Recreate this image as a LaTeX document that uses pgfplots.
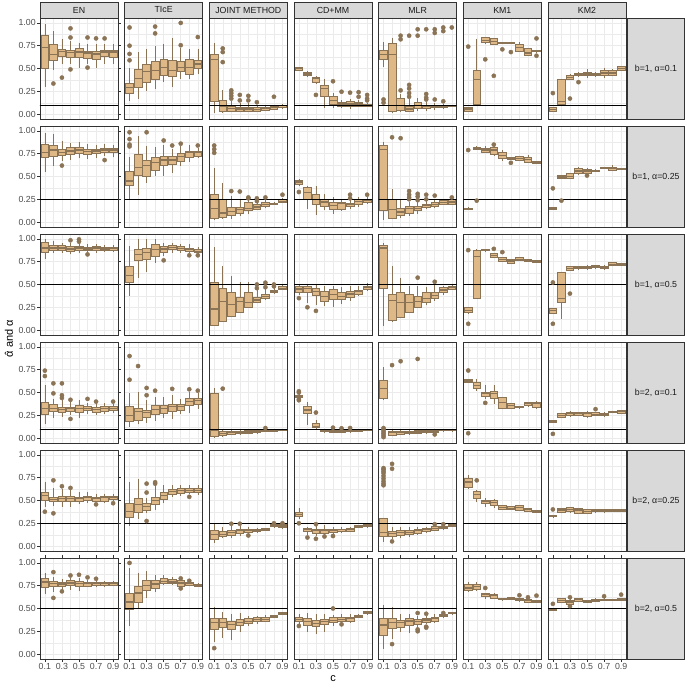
\documentclass[border=0pt]{standalone}
\usepackage{fontspec}
\setmainfont{Liberation Sans}
\usepackage{pgfplots}
\pgfplotsset{compat=1.18}
\usepgfplotslibrary{groupplots,statistics}
\usetikzlibrary{calc}

\definecolor{bfill}{HTML}{DEB887}
\definecolor{bline}{HTML}{8B7355}
\definecolor{grey10}{HTML}{1A1A1A}
\definecolor{grey20}{HTML}{333333}
\definecolor{grey30}{HTML}{4D4D4D}
\definecolor{grey85}{HTML}{D9D9D9}
\definecolor{grey92}{HTML}{EBEBEB}

\pgfplotsset{
  panel/.style={
    scale only axis, width=78pt, height=101pt,
    xmin=0.043, xmax=0.957, ymin=-0.054, ymax=1.054,
    xtick={0.1,0.3,0.5,0.7,0.9}, minor xtick={0.2,0.4,0.6,0.8},
    ytick={0,0.25,0.5,0.75,1}, minor ytick={0.125,0.375,0.625,0.875},
    xticklabels={}, yticklabels={},
    grid=both,
    major grid style={grey92, line width=0.55pt},
    minor grid style={grey92, line width=0.3pt},
    axis line style={grey20, line width=0.55pt},
    tick align=outside, major tick length=2.6pt, minor tick length=0pt,
    xtick style={draw=none}, ytick style={draw=none},
    ticklabel style={font=\fontsize{8.8}{9}\selectfont, text=grey30},
    xticklabel style={inner sep=1.5pt},
    yticklabel style={inner sep=1.5pt},
    boxplot/draw direction=y,
    boxplot/box extend=0.09,
    boxplot/whisker extend=0,
    boxplot/every median/.style={line width=1.2pt},
  },
  lft/.style={yticklabels={0.00,0.25,0.50,0.75,1.00}, ytick style={draw=grey20, line width=0.55pt}},
  bot/.style={xticklabels={0.1,0.3,0.5,0.7,0.9}, xtick style={draw=grey20, line width=0.55pt}},
  bxs/.style={draw=bline, fill=bfill, line width=0.6pt, solid},
  outl/.style={only marks, mark=*, mark size=2.1pt, color=bline, mark options={draw=bline, fill=bline, solid}},
}
\newcommand\bx[6]{\addplot[bxs, boxplot prepared={draw position=#1, lower whisker=#2, lower quartile=#3, median=#4, upper quartile=#5, upper whisker=#6}] coordinates {};}
\newcommand\hl[1]{\addplot[black, line width=0.6pt] coordinates {(0,#1) (1,#1)};}

\begin{document}
\begin{tikzpicture}
\begin{groupplot}[group style={group size=7 by 6, horizontal sep=6.67pt, vertical sep=7pt}, panel]
% ---------------- row 1: b=1, alpha=0.1
\nextgroupplot[lft]
\bx{0.1}{0.30}{0.50}{0.73}{0.86}{0.99}
\bx{0.2}{0.48}{0.59}{0.655}{0.76}{0.91}
\bx{0.3}{0.55}{0.63}{0.69}{0.71}{0.82}
\bx{0.4}{0.55}{0.62}{0.675}{0.705}{0.80}
\bx{0.5}{0.51}{0.62}{0.68}{0.72}{0.78}
\bx{0.6}{0.55}{0.61}{0.67}{0.69}{0.77}
\bx{0.7}{0.51}{0.60}{0.66}{0.69}{0.77}
\bx{0.8}{0.55}{0.63}{0.68}{0.70}{0.77}
\bx{0.9}{0.55}{0.62}{0.68}{0.70}{0.77}
\addplot[outl] coordinates {(0.2,0.335)(0.3,0.40)(0.4,0.94)(0.4,0.84)(0.4,0.49)(0.6,0.84)(0.6,0.51)(0.7,0.83)(0.8,0.83)};
\hl{0.1}
\nextgroupplot
\bx{0.1}{0.14}{0.23}{0.29}{0.335}{0.50}
\bx{0.2}{0.17}{0.29}{0.39}{0.49}{0.68}
\bx{0.3}{0.25}{0.35}{0.47}{0.55}{0.71}
\bx{0.4}{0.27}{0.38}{0.48}{0.58}{0.75}
\bx{0.5}{0.35}{0.43}{0.51}{0.60}{0.77}
\bx{0.6}{0.30}{0.41}{0.48}{0.59}{0.84}
\bx{0.7}{0.39}{0.47}{0.51}{0.58}{0.73}
\bx{0.8}{0.38}{0.44}{0.51}{0.60}{0.71}
\bx{0.9}{0.44}{0.50}{0.55}{0.59}{0.71}
\addplot[outl] coordinates {(0.1,0.95)(0.1,0.75)(0.1,0.66)(0.1,0.59)(0.4,0.96)(0.4,0.885)(0.7,1.0)(0.7,0.755)(0.9,0.845)};
\hl{0.1}
\nextgroupplot
\bx{0.1}{0.01}{0.14}{0.60}{0.66}{0.78}
\bx{0.2}{0.01}{0.03}{0.08}{0.155}{0.26}
\bx{0.3}{0.02}{0.035}{0.06}{0.08}{0.14}
\bx{0.4}{0.02}{0.035}{0.055}{0.075}{0.12}
\bx{0.5}{0.02}{0.035}{0.055}{0.075}{0.12}
\bx{0.6}{0.02}{0.035}{0.05}{0.07}{0.10}
\bx{0.7}{0.03}{0.04}{0.065}{0.075}{0.10}
\bx{0.8}{0.04}{0.055}{0.075}{0.085}{0.10}
\bx{0.9}{0.06}{0.075}{0.09}{0.095}{0.11}
\addplot[outl] coordinates {(0.2,0.72)(0.2,0.68)(0.2,0.57)(0.3,0.26)(0.3,0.23)(0.3,0.20)(0.3,0.17)(0.4,0.21)(0.4,0.15)(0.5,0.20)(0.5,0.15)(0.6,0.13)(0.8,0.19)};
\hl{0.1}
\nextgroupplot
\bx{0.1}{0.48}{0.485}{0.50}{0.51}{0.515}
\bx{0.2}{0.41}{0.42}{0.44}{0.46}{0.47}
\bx{0.3}{0.33}{0.35}{0.39}{0.40}{0.42}
\bx{0.4}{0.065}{0.19}{0.28}{0.32}{0.39}
\bx{0.5}{0.065}{0.11}{0.145}{0.19}{0.23}
\bx{0.6}{0.07}{0.08}{0.11}{0.13}{0.15}
\bx{0.7}{0.06}{0.08}{0.11}{0.135}{0.16}
\bx{0.8}{0.08}{0.09}{0.11}{0.13}{0.15}
\bx{0.9}{0.085}{0.09}{0.10}{0.11}{0.12}
\addplot[outl] coordinates {(0.3,0.21)(0.5,0.36)(0.6,0.245)(0.7,0.235)(0.8,0.24)(0.8,0.19)(0.9,0.21)(0.9,0.17)(0.9,0.15)};
\hl{0.1}
\nextgroupplot
\bx{0.1}{0.515}{0.605}{0.65}{0.70}{0.79}
\bx{0.2}{0.01}{0.03}{0.65}{0.775}{0.84}
\bx{0.3}{0.02}{0.04}{0.095}{0.17}{0.22}
\bx{0.4}{0.02}{0.035}{0.055}{0.08}{0.17}
\bx{0.5}{0.03}{0.06}{0.09}{0.13}{0.18}
\bx{0.6}{0.03}{0.06}{0.08}{0.10}{0.13}
\bx{0.7}{0.04}{0.07}{0.085}{0.10}{0.12}
\bx{0.8}{0.06}{0.075}{0.085}{0.095}{0.11}
\bx{0.9}{0.08}{0.085}{0.09}{0.095}{0.10}
\addplot[outl] coordinates {(0.1,0.16)(0.1,0.125)(0.3,0.26)(0.3,0.86)(0.3,0.82)(0.4,0.32)(0.4,0.28)(0.4,0.23)(0.4,0.19)(0.4,0.86)(0.5,0.93)(0.5,0.86)(0.6,0.22)(0.6,0.18)(0.6,0.16)(0.6,0.93)(0.7,0.93)(0.7,0.89)(0.7,0.16)(0.8,0.95)(0.8,0.91)(0.8,0.14)(0.9,0.95)};
\hl{0.1}
\nextgroupplot
\bx{0.1}{0.03}{0.035}{0.055}{0.075}{0.08}
\bx{0.2}{0.11}{0.11}{0.38}{0.48}{0.82}
\bx{0.3}{0.78}{0.785}{0.81}{0.845}{0.85}
\bx{0.4}{0.76}{0.77}{0.80}{0.83}{0.84}
\bx{0.5}{0.78}{0.78}{0.785}{0.79}{0.79}
\bx{0.6}{0.78}{0.78}{0.785}{0.79}{0.79}
\bx{0.7}{0.68}{0.69}{0.73}{0.77}{0.79}
\bx{0.8}{0.64}{0.65}{0.67}{0.72}{0.73}
\bx{0.9}{0.68}{0.685}{0.69}{0.695}{0.70}
\addplot[outl] coordinates {(0.1,0.74)(0.3,0.60)(0.4,0.42)(0.5,0.71)(0.6,0.68)(0.9,0.83)(0.9,0.64)};
\hl{0.1}
\nextgroupplot
\bx{0.1}{0.03}{0.03}{0.05}{0.07}{0.07}
\bx{0.2}{0.10}{0.11}{0.14}{0.38}{0.39}
\bx{0.3}{0.37}{0.38}{0.40}{0.42}{0.44}
\bx{0.4}{0.41}{0.42}{0.435}{0.45}{0.46}
\bx{0.5}{0.40}{0.42}{0.44}{0.46}{0.49}
\bx{0.6}{0.41}{0.42}{0.435}{0.45}{0.46}
\bx{0.7}{0.40}{0.43}{0.45}{0.475}{0.51}
\bx{0.8}{0.42}{0.43}{0.45}{0.475}{0.49}
\bx{0.9}{0.48}{0.485}{0.50}{0.52}{0.53}
\addplot[outl] coordinates {(0.1,0.23)(0.3,0.17)(0.4,0.35)};
\hl{0.1}
% ---------------- row 2: b=1, alpha=0.25
\nextgroupplot[lft]
\bx{0.1}{0.55}{0.71}{0.76}{0.85}{0.98}
\bx{0.2}{0.62}{0.725}{0.79}{0.84}{0.97}
\bx{0.3}{0.67}{0.73}{0.76}{0.80}{0.89}
\bx{0.4}{0.68}{0.74}{0.78}{0.815}{0.87}
\bx{0.5}{0.70}{0.75}{0.79}{0.815}{0.88}
\bx{0.6}{0.69}{0.74}{0.77}{0.80}{0.86}
\bx{0.7}{0.70}{0.75}{0.78}{0.80}{0.85}
\bx{0.8}{0.72}{0.76}{0.79}{0.81}{0.86}
\bx{0.9}{0.71}{0.76}{0.79}{0.81}{0.85}
\addplot[outl] coordinates {(0.3,0.62)(0.8,0.68)};
\hl{0.25}
\nextgroupplot
\bx{0.1}{0.25}{0.40}{0.45}{0.56}{0.71}
\bx{0.2}{0.30}{0.51}{0.60}{0.74}{0.94}
\bx{0.3}{0.43}{0.50}{0.62}{0.68}{0.83}
\bx{0.4}{0.50}{0.57}{0.65}{0.71}{0.82}
\bx{0.5}{0.51}{0.62}{0.68}{0.72}{0.85}
\bx{0.6}{0.54}{0.63}{0.68}{0.72}{0.80}
\bx{0.7}{0.62}{0.67}{0.72}{0.75}{0.83}
\bx{0.8}{0.66}{0.71}{0.76}{0.78}{0.85}
\bx{0.9}{0.70}{0.725}{0.76}{0.78}{0.81}
\addplot[outl] coordinates {(0.1,0.985)(0.1,0.91)(0.1,0.85)(0.1,0.83)(0.3,0.985)(0.5,0.895)(0.6,0.84)(0.7,0.86)(0.9,0.84)};
\hl{0.25}
\nextgroupplot
\bx{0.1}{0.02}{0.04}{0.145}{0.30}{0.59}
\bx{0.2}{0.04}{0.05}{0.10}{0.245}{0.43}
\bx{0.3}{0.036}{0.07}{0.115}{0.16}{0.29}
\bx{0.4}{0.07}{0.10}{0.14}{0.16}{0.25}
\bx{0.5}{0.09}{0.13}{0.15}{0.22}{0.25}
\bx{0.6}{0.13}{0.145}{0.165}{0.19}{0.25}
\bx{0.7}{0.15}{0.17}{0.19}{0.22}{0.24}
\bx{0.8}{0.19}{0.20}{0.205}{0.21}{0.22}
\bx{0.9}{0.21}{0.22}{0.23}{0.245}{0.26}
\addplot[outl] coordinates {(0.1,0.84)(0.1,0.80)(0.1,0.76)(0.3,0.34)(0.4,0.335)(0.5,0.26)(0.5,0.27)(0.6,0.26)(0.6,0.23)(0.7,0.27)(0.9,0.30)};
\hl{0.25}
\nextgroupplot
\bx{0.1}{0.40}{0.415}{0.44}{0.46}{0.47}
\bx{0.2}{0.14}{0.25}{0.32}{0.38}{0.40}
\bx{0.3}{0.08}{0.19}{0.25}{0.30}{0.40}
\bx{0.4}{0.13}{0.17}{0.22}{0.25}{0.31}
\bx{0.5}{0.09}{0.14}{0.18}{0.22}{0.28}
\bx{0.6}{0.12}{0.145}{0.20}{0.22}{0.25}
\bx{0.7}{0.14}{0.17}{0.19}{0.21}{0.25}
\bx{0.8}{0.17}{0.19}{0.225}{0.245}{0.27}
\bx{0.9}{0.20}{0.22}{0.235}{0.25}{0.27}
\addplot[outl] coordinates {(0.1,0.33)(0.7,0.30)(0.7,0.26)(0.9,0.30)};
\hl{0.25}
\nextgroupplot
\bx{0.1}{0.025}{0.13}{0.80}{0.84}{0.88}
\bx{0.2}{0.036}{0.04}{0.14}{0.25}{0.36}
\bx{0.3}{0.05}{0.07}{0.11}{0.15}{0.25}
\bx{0.4}{0.07}{0.10}{0.145}{0.17}{0.22}
\bx{0.5}{0.09}{0.13}{0.145}{0.17}{0.22}
\bx{0.6}{0.14}{0.16}{0.18}{0.20}{0.23}
\bx{0.7}{0.15}{0.17}{0.19}{0.22}{0.25}
\bx{0.8}{0.19}{0.20}{0.215}{0.235}{0.25}
\bx{0.9}{0.19}{0.20}{0.22}{0.25}{0.26}
\addplot[outl] coordinates {(0.2,0.93)(0.3,0.92)(0.4,0.34)(0.4,0.30)(0.4,0.27)(0.4,0.25)(0.5,0.31)(0.5,0.28)(0.5,0.24)(0.6,0.30)(0.6,0.25)(0.7,0.29)(0.9,0.27)};
\hl{0.25}
\nextgroupplot
\bx{0.1}{0.14}{0.14}{0.145}{0.155}{0.16}
\bx{0.2}{0.80}{0.80}{0.81}{0.82}{0.83}
\bx{0.3}{0.76}{0.77}{0.79}{0.81}{0.83}
\bx{0.4}{0.72}{0.74}{0.79}{0.815}{0.83}
\bx{0.5}{0.67}{0.695}{0.73}{0.76}{0.79}
\bx{0.6}{0.685}{0.69}{0.70}{0.71}{0.715}
\bx{0.7}{0.67}{0.68}{0.70}{0.72}{0.73}
\bx{0.8}{0.65}{0.66}{0.69}{0.71}{0.74}
\bx{0.9}{0.64}{0.645}{0.655}{0.665}{0.67}
\addplot[outl] coordinates {(0.1,0.79)(0.2,0.235)(0.4,0.85)(0.6,0.65)};
\hl{0.25}
\nextgroupplot
\bx{0.1}{0.14}{0.14}{0.15}{0.16}{0.16}
\bx{0.2}{0.47}{0.48}{0.495}{0.51}{0.52}
\bx{0.3}{0.47}{0.48}{0.50}{0.53}{0.54}
\bx{0.4}{0.52}{0.53}{0.56}{0.59}{0.60}
\bx{0.5}{0.52}{0.53}{0.56}{0.58}{0.59}
\bx{0.6}{0.55}{0.56}{0.565}{0.57}{0.58}
\bx{0.7}{0.585}{0.59}{0.595}{0.60}{0.605}
\bx{0.8}{0.56}{0.57}{0.585}{0.60}{0.625}
\bx{0.9}{0.575}{0.58}{0.585}{0.59}{0.595}
\addplot[outl] coordinates {(0.1,0.37)(0.2,0.235)(0.5,0.51)};
\hl{0.25}
% ---------------- row 3: b=1, alpha=0.5
\nextgroupplot[lft]
\bx{0.1}{0.775}{0.85}{0.90}{0.96}{1.0}
\bx{0.2}{0.85}{0.875}{0.90}{0.93}{0.975}
\bx{0.3}{0.84}{0.87}{0.90}{0.93}{0.96}
\bx{0.4}{0.83}{0.865}{0.89}{0.92}{0.95}
\bx{0.5}{0.85}{0.875}{0.90}{0.92}{0.95}
\bx{0.6}{0.85}{0.87}{0.89}{0.91}{0.94}
\bx{0.7}{0.85}{0.875}{0.90}{0.92}{0.94}
\bx{0.8}{0.86}{0.875}{0.89}{0.905}{0.93}
\bx{0.9}{0.86}{0.875}{0.90}{0.91}{0.93}
\addplot[outl] coordinates {(0.4,0.985)(0.5,0.995)(0.5,0.97)(0.6,0.83)};
\hl{0.5}
\nextgroupplot
\bx{0.1}{0.37}{0.52}{0.60}{0.70}{0.92}
\bx{0.2}{0.575}{0.76}{0.83}{0.89}{1.0}
\bx{0.3}{0.64}{0.78}{0.85}{0.90}{1.0}
\bx{0.4}{0.74}{0.81}{0.88}{0.94}{1.0}
\bx{0.5}{0.81}{0.855}{0.89}{0.92}{0.96}
\bx{0.6}{0.85}{0.885}{0.91}{0.93}{0.96}
\bx{0.7}{0.85}{0.87}{0.895}{0.915}{0.945}
\bx{0.8}{0.84}{0.865}{0.885}{0.90}{0.94}
\bx{0.9}{0.83}{0.85}{0.865}{0.885}{0.91}
\addplot[outl] coordinates {(0.5,0.765)(0.8,0.82)(0.9,0.82)};
\hl{0.5}
\nextgroupplot
\bx{0.1}{0.05}{0.05}{0.23}{0.52}{0.91}
\bx{0.2}{0.09}{0.095}{0.31}{0.46}{0.70}
\bx{0.3}{0.14}{0.15}{0.28}{0.41}{0.59}
\bx{0.4}{0.19}{0.195}{0.31}{0.36}{0.53}
\bx{0.5}{0.25}{0.25}{0.30}{0.41}{0.53}
\bx{0.6}{0.30}{0.30}{0.33}{0.36}{0.44}
\bx{0.7}{0.33}{0.35}{0.37}{0.395}{0.45}
\bx{0.8}{0.40}{0.41}{0.42}{0.44}{0.46}
\bx{0.9}{0.44}{0.45}{0.46}{0.485}{0.49}
\addplot[outl] coordinates {(0.6,0.50)(0.6,0.46)(0.7,0.52)(0.7,0.47)(0.8,0.48)(0.8,0.50)};
\hl{0.5}
\nextgroupplot
\bx{0.1}{0.39}{0.41}{0.45}{0.475}{0.49}
\bx{0.2}{0.30}{0.41}{0.46}{0.485}{0.50}
\bx{0.3}{0.27}{0.38}{0.425}{0.46}{0.50}
\bx{0.4}{0.268}{0.32}{0.37}{0.42}{0.485}
\bx{0.5}{0.25}{0.333}{0.387}{0.45}{0.485}
\bx{0.6}{0.286}{0.34}{0.37}{0.413}{0.467}
\bx{0.7}{0.32}{0.359}{0.395}{0.424}{0.485}
\bx{0.8}{0.377}{0.395}{0.42}{0.44}{0.485}
\bx{0.9}{0.43}{0.45}{0.467}{0.485}{0.515}
\addplot[outl] coordinates {(0.1,0.35)(0.2,0.25)(0.3,0.21)};
\hl{0.5}
\nextgroupplot
\bx{0.1}{0.05}{0.455}{0.90}{0.93}{0.955}
\bx{0.2}{0.09}{0.105}{0.32}{0.395}{0.70}
\bx{0.3}{0.13}{0.14}{0.30}{0.41}{0.575}
\bx{0.4}{0.185}{0.195}{0.30}{0.395}{0.48}
\bx{0.5}{0.24}{0.25}{0.31}{0.37}{0.485}
\bx{0.6}{0.27}{0.30}{0.35}{0.41}{0.467}
\bx{0.7}{0.32}{0.35}{0.38}{0.41}{0.50}
\bx{0.8}{0.39}{0.41}{0.44}{0.47}{0.485}
\bx{0.9}{0.45}{0.45}{0.467}{0.485}{0.50}
\addplot[outl] coordinates {(0.5,0.575)(0.7,0.53)};
\hl{0.5}
\nextgroupplot
\bx{0.1}{0.188}{0.19}{0.214}{0.25}{0.25}
\bx{0.2}{0.348}{0.348}{0.804}{0.877}{0.891}
\bx{0.3}{0.87}{0.872}{0.877}{0.882}{0.885}
\bx{0.4}{0.80}{0.80}{0.82}{0.84}{0.85}
\bx{0.5}{0.75}{0.757}{0.775}{0.793}{0.80}
\bx{0.6}{0.72}{0.732}{0.757}{0.775}{0.78}
\bx{0.7}{0.76}{0.764}{0.775}{0.793}{0.80}
\bx{0.8}{0.755}{0.757}{0.765}{0.775}{0.78}
\bx{0.9}{0.74}{0.746}{0.755}{0.764}{0.77}
\addplot[outl] coordinates {(0.1,0.877)(0.1,0.069)(0.4,0.891)(0.5,0.855)};
\hl{0.5}
\nextgroupplot
\bx{0.1}{0.188}{0.188}{0.214}{0.239}{0.24}
\bx{0.2}{0.123}{0.31}{0.348}{0.63}{0.64}
\bx{0.3}{0.65}{0.66}{0.678}{0.696}{0.70}
\bx{0.4}{0.67}{0.674}{0.68}{0.696}{0.70}
\bx{0.5}{0.67}{0.674}{0.685}{0.703}{0.71}
\bx{0.6}{0.68}{0.685}{0.695}{0.71}{0.715}
\bx{0.7}{0.67}{0.674}{0.685}{0.703}{0.71}
\bx{0.8}{0.70}{0.71}{0.72}{0.739}{0.745}
\bx{0.9}{0.70}{0.71}{0.72}{0.73}{0.735}
\addplot[outl] coordinates {(0.1,0.522)(0.1,0.069)(0.3,0.40)};
\hl{0.5}
% ---------------- row 4: b=2, alpha=0.1
\nextgroupplot[lft]
\bx{0.1}{0.15}{0.26}{0.325}{0.39}{0.58}
\bx{0.2}{0.22}{0.29}{0.325}{0.37}{0.43}
\bx{0.3}{0.23}{0.28}{0.31}{0.34}{0.415}
\bx{0.4}{0.25}{0.29}{0.32}{0.34}{0.40}
\bx{0.5}{0.22}{0.28}{0.325}{0.355}{0.415}
\bx{0.6}{0.26}{0.30}{0.325}{0.35}{0.39}
\bx{0.7}{0.25}{0.28}{0.31}{0.34}{0.38}
\bx{0.8}{0.26}{0.29}{0.325}{0.343}{0.38}
\bx{0.9}{0.28}{0.30}{0.325}{0.343}{0.37}
\addplot[outl] coordinates {(0.1,0.74)(0.1,0.68)(0.2,0.60)(0.2,0.49)(0.3,0.60)(0.3,0.47)(0.3,0.44)(0.4,0.42)(0.4,0.21)(0.6,0.43)(0.7,0.40)(0.9,0.40)};
\hl{0.1}
\nextgroupplot
\bx{0.1}{0.125}{0.18}{0.245}{0.343}{0.49}
\bx{0.2}{0.15}{0.20}{0.29}{0.325}{0.50}
\bx{0.3}{0.17}{0.23}{0.28}{0.31}{0.415}
\bx{0.4}{0.19}{0.26}{0.317}{0.354}{0.45}
\bx{0.5}{0.22}{0.27}{0.325}{0.354}{0.45}
\bx{0.6}{0.21}{0.29}{0.343}{0.368}{0.47}
\bx{0.7}{0.26}{0.31}{0.343}{0.368}{0.433}
\bx{0.8}{0.27}{0.354}{0.397}{0.433}{0.506}
\bx{0.9}{0.32}{0.368}{0.408}{0.441}{0.49}
\addplot[outl] coordinates {(0.1,0.90)(0.1,0.64)(0.2,0.79)(0.3,0.55)(0.3,0.47)(0.4,0.52)(0.6,0.54)(0.8,0.535)(0.9,0.52)};
\hl{0.1}
\nextgroupplot
\bx{0.1}{0.006}{0.017}{0.089}{0.488}{0.55}
\bx{0.2}{0.017}{0.035}{0.053}{0.078}{0.10}
\bx{0.3}{0.03}{0.042}{0.06}{0.078}{0.09}
\bx{0.4}{0.035}{0.049}{0.064}{0.078}{0.09}
\bx{0.5}{0.04}{0.053}{0.067}{0.082}{0.09}
\bx{0.6}{0.05}{0.064}{0.071}{0.086}{0.095}
\bx{0.7}{0.07}{0.078}{0.086}{0.10}{0.105}
\bx{0.8}{0.07}{0.078}{0.085}{0.096}{0.10}
\bx{0.9}{0.085}{0.089}{0.093}{0.10}{0.10}
\addplot[outl] coordinates {(0.2,0.542)(0.7,0.11)};
\hl{0.1}
\nextgroupplot
\bx{0.1}{0.44}{0.45}{0.46}{0.47}{0.48}
\bx{0.2}{0.143}{0.27}{0.307}{0.343}{0.397}
\bx{0.3}{0.107}{0.114}{0.13}{0.162}{0.198}
\bx{0.4}{0.06}{0.071}{0.08}{0.09}{0.10}
\bx{0.5}{0.06}{0.064}{0.075}{0.082}{0.09}
\bx{0.6}{0.06}{0.064}{0.075}{0.086}{0.09}
\bx{0.7}{0.07}{0.071}{0.085}{0.096}{0.10}
\bx{0.8}{0.075}{0.078}{0.085}{0.093}{0.10}
\bx{0.9}{0.085}{0.089}{0.093}{0.096}{0.10}
\addplot[outl] coordinates {(0.1,0.513)(0.1,0.499)(0.1,0.426)(0.1,0.415)(0.3,0.28)(0.5,0.114)(0.6,0.107)(0.7,0.11)};
\hl{0.1}
\nextgroupplot
\bx{0.1}{0.415}{0.433}{0.542}{0.633}{0.778}
\bx{0.2}{0.03}{0.035}{0.06}{0.078}{0.10}
\bx{0.3}{0.035}{0.042}{0.06}{0.078}{0.09}
\bx{0.4}{0.04}{0.049}{0.064}{0.078}{0.09}
\bx{0.5}{0.04}{0.053}{0.067}{0.082}{0.09}
\bx{0.6}{0.05}{0.06}{0.071}{0.086}{0.095}
\bx{0.7}{0.055}{0.064}{0.075}{0.09}{0.10}
\bx{0.8}{0.075}{0.08}{0.088}{0.096}{0.10}
\bx{0.9}{0.08}{0.082}{0.088}{0.096}{0.10}
\addplot[outl] coordinates {(0.1,0.11)(0.1,0.09)(0.1,0.07)(0.1,0.05)(0.1,0.03)(0.1,0.01)(0.2,0.80)(0.3,0.843)(0.5,0.868)(0.7,0.04)};
\hl{0.1}
\nextgroupplot
\bx{0.1}{0.60}{0.614}{0.625}{0.643}{0.65}
\bx{0.2}{0.52}{0.549}{0.578}{0.61}{0.647}
\bx{0.3}{0.433}{0.462}{0.488}{0.506}{0.578}
\bx{0.4}{0.379}{0.433}{0.488}{0.513}{0.586}
\bx{0.5}{0.325}{0.325}{0.386}{0.444}{0.451}
\bx{0.6}{0.32}{0.325}{0.361}{0.379}{0.39}
\bx{0.7}{0.325}{0.332}{0.34}{0.35}{0.354}
\bx{0.8}{0.35}{0.354}{0.379}{0.39}{0.40}
\bx{0.9}{0.32}{0.332}{0.379}{0.397}{0.404}
\addplot[outl] coordinates {(0.1,0.741)(0.1,0.053)(0.3,0.386)};
\hl{0.1}
\nextgroupplot
\bx{0.1}{0.17}{0.172}{0.185}{0.198}{0.20}
\bx{0.2}{0.22}{0.227}{0.245}{0.27}{0.28}
\bx{0.3}{0.24}{0.245}{0.27}{0.288}{0.30}
\bx{0.4}{0.25}{0.252}{0.27}{0.281}{0.29}
\bx{0.5}{0.23}{0.234}{0.27}{0.288}{0.30}
\bx{0.6}{0.25}{0.252}{0.262}{0.281}{0.285}
\bx{0.7}{0.234}{0.252}{0.26}{0.27}{0.288}
\bx{0.8}{0.28}{0.281}{0.29}{0.296}{0.30}
\bx{0.9}{0.26}{0.27}{0.288}{0.307}{0.31}
\addplot[outl] coordinates {(0.1,0.046)(0.6,0.317)};
\hl{0.1}
% ---------------- row 5: b=2, alpha=0.25
\nextgroupplot[lft]
\bx{0.1}{0.431}{0.504}{0.558}{0.594}{0.703}
\bx{0.2}{0.442}{0.486}{0.514}{0.54}{0.638}
\bx{0.3}{0.431}{0.493}{0.522}{0.551}{0.63}
\bx{0.4}{0.431}{0.493}{0.522}{0.551}{0.612}
\bx{0.5}{0.457}{0.493}{0.522}{0.54}{0.594}
\bx{0.6}{0.467}{0.504}{0.529}{0.551}{0.594}
\bx{0.7}{0.486}{0.493}{0.522}{0.54}{0.576}
\bx{0.8}{0.467}{0.493}{0.529}{0.551}{0.576}
\bx{0.9}{0.49}{0.511}{0.529}{0.551}{0.576}
\addplot[outl] coordinates {(0.1,0.377)(0.2,0.721)(0.2,0.359)(0.3,0.656)(0.4,0.638)(0.7,0.457)(0.9,0.47)};
\hl{0.25}
\nextgroupplot
\bx{0.1}{0.221}{0.312}{0.377}{0.467}{0.703}
\bx{0.2}{0.297}{0.37}{0.457}{0.529}{0.739}
\bx{0.3}{0.359}{0.395}{0.431}{0.467}{0.522}
\bx{0.4}{0.395}{0.457}{0.504}{0.54}{0.667}
\bx{0.5}{0.467}{0.514}{0.558}{0.594}{0.667}
\bx{0.6}{0.54}{0.565}{0.601}{0.623}{0.667}
\bx{0.7}{0.551}{0.583}{0.612}{0.638}{0.667}
\bx{0.8}{0.576}{0.594}{0.612}{0.638}{0.667}
\bx{0.9}{0.565}{0.594}{0.612}{0.638}{0.667}
\addplot[outl] coordinates {(0.3,0.685)(0.3,0.587)(0.3,0.275)(0.4,0.70)(0.4,0.685)(0.8,0.54)};
\hl{0.25}
\nextgroupplot
\bx{0.1}{0.033}{0.069}{0.123}{0.174}{0.25}
\bx{0.2}{0.087}{0.105}{0.13}{0.159}{0.214}
\bx{0.3}{0.087}{0.123}{0.152}{0.178}{0.215}
\bx{0.4}{0.105}{0.141}{0.167}{0.188}{0.22}
\bx{0.5}{0.13}{0.152}{0.17}{0.188}{0.214}
\bx{0.6}{0.15}{0.159}{0.174}{0.188}{0.20}
\bx{0.7}{0.17}{0.178}{0.185}{0.196}{0.20}
\bx{0.8}{0.21}{0.214}{0.225}{0.239}{0.245}
\bx{0.9}{0.19}{0.203}{0.22}{0.239}{0.25}
\addplot[outl] coordinates {(0.3,0.245)(0.4,0.245)(0.5,0.116)(0.8,0.25)(0.9,0.25)(0.9,0.23)};
\hl{0.25}
\nextgroupplot
\bx{0.1}{0.30}{0.322}{0.348}{0.37}{0.42}
\bx{0.2}{0.123}{0.159}{0.178}{0.196}{0.214}
\bx{0.3}{0.105}{0.141}{0.167}{0.188}{0.23}
\bx{0.4}{0.123}{0.141}{0.167}{0.188}{0.232}
\bx{0.5}{0.123}{0.152}{0.174}{0.188}{0.21}
\bx{0.6}{0.141}{0.159}{0.178}{0.188}{0.214}
\bx{0.7}{0.16}{0.167}{0.185}{0.196}{0.21}
\bx{0.8}{0.20}{0.205}{0.215}{0.225}{0.23}
\bx{0.9}{0.20}{0.214}{0.23}{0.25}{0.255}
\addplot[outl] coordinates {(0.1,0.25)(0.2,0.094)(0.3,0.08)(0.3,0.24)(0.4,0.105)(0.5,0.11)};
\hl{0.25}
\nextgroupplot
\bx{0.1}{0.043}{0.105}{0.152}{0.304}{0.312}
\bx{0.2}{0.08}{0.105}{0.134}{0.159}{0.214}
\bx{0.3}{0.087}{0.123}{0.152}{0.178}{0.214}
\bx{0.4}{0.094}{0.13}{0.152}{0.178}{0.21}
\bx{0.5}{0.123}{0.141}{0.167}{0.188}{0.214}
\bx{0.6}{0.14}{0.159}{0.178}{0.196}{0.21}
\bx{0.7}{0.16}{0.178}{0.19}{0.214}{0.225}
\bx{0.8}{0.18}{0.196}{0.205}{0.221}{0.23}
\bx{0.9}{0.21}{0.221}{0.23}{0.239}{0.245}
\addplot[outl] coordinates {(0.1,0.855)(0.1,0.84)(0.1,0.82)(0.1,0.80)(0.1,0.77)(0.1,0.74)(0.1,0.71)(0.1,0.685)(0.1,0.667)(0.2,0.902)(0.2,0.848)(0.2,0.051)(0.7,0.239)(0.8,0.239)};
\hl{0.25}
\nextgroupplot
\bx{0.1}{0.63}{0.649}{0.703}{0.739}{0.775}
\bx{0.2}{0.478}{0.522}{0.565}{0.601}{0.612}
\bx{0.3}{0.431}{0.467}{0.486}{0.504}{0.522}
\bx{0.4}{0.413}{0.449}{0.478}{0.504}{0.514}
\bx{0.5}{0.40}{0.406}{0.42}{0.442}{0.45}
\bx{0.6}{0.40}{0.406}{0.415}{0.431}{0.44}
\bx{0.7}{0.39}{0.395}{0.42}{0.442}{0.45}
\bx{0.8}{0.38}{0.384}{0.40}{0.413}{0.42}
\bx{0.9}{0.365}{0.37}{0.38}{0.395}{0.40}
\addplot[outl] coordinates {(0.2,0.721)};
\hl{0.25}
\nextgroupplot
\bx{0.1}{0.32}{0.322}{0.33}{0.341}{0.345}
\bx{0.2}{0.36}{0.37}{0.395}{0.413}{0.42}
\bx{0.3}{0.37}{0.377}{0.40}{0.42}{0.425}
\bx{0.4}{0.35}{0.359}{0.395}{0.413}{0.42}
\bx{0.5}{0.35}{0.359}{0.377}{0.402}{0.41}
\bx{0.6}{0.37}{0.377}{0.39}{0.406}{0.41}
\bx{0.7}{0.37}{0.377}{0.39}{0.406}{0.41}
\bx{0.8}{0.38}{0.384}{0.39}{0.402}{0.405}
\bx{0.9}{0.38}{0.384}{0.39}{0.406}{0.41}
\addplot[outl] coordinates {(0.1,0.402)};
\hl{0.25}
% ---------------- row 6: b=2, alpha=0.5
\nextgroupplot[lft,bot]
\bx{0.1}{0.663}{0.736}{0.79}{0.826}{0.888}
\bx{0.2}{0.681}{0.743}{0.772}{0.797}{0.844}
\bx{0.3}{0.707}{0.743}{0.768}{0.786}{0.826}
\bx{0.4}{0.707}{0.754}{0.779}{0.804}{0.833}
\bx{0.5}{0.688}{0.743}{0.772}{0.797}{0.833}
\bx{0.6}{0.732}{0.743}{0.772}{0.786}{0.815}
\bx{0.7}{0.732}{0.754}{0.772}{0.786}{0.815}
\bx{0.8}{0.732}{0.754}{0.772}{0.786}{0.804}
\bx{0.9}{0.743}{0.758}{0.772}{0.786}{0.804}
\addplot[outl] coordinates {(0.2,0.899)(0.2,0.616)(0.3,0.688)(0.4,0.862)(0.5,0.87)(0.6,0.841)(0.7,0.826)};
\hl{0.5}
\nextgroupplot[bot]
\bx{0.1}{0.308}{0.489}{0.572}{0.663}{0.942}
\bx{0.2}{0.50}{0.572}{0.67}{0.743}{0.888}
\bx{0.3}{0.616}{0.696}{0.75}{0.804}{0.913}
\bx{0.4}{0.681}{0.725}{0.768}{0.808}{0.87}
\bx{0.5}{0.754}{0.779}{0.797}{0.826}{0.862}
\bx{0.6}{0.754}{0.772}{0.79}{0.815}{0.841}
\bx{0.7}{0.725}{0.743}{0.779}{0.808}{0.841}
\bx{0.8}{0.743}{0.754}{0.772}{0.786}{0.815}
\bx{0.9}{0.74}{0.743}{0.754}{0.768}{0.775}
\addplot[outl] coordinates {(0.1,1.0)(0.7,0.83)(0.7,0.72)(0.8,0.804)};
\hl{0.5}
\nextgroupplot[bot]
\bx{0.1}{0.13}{0.27}{0.345}{0.39}{0.52}
\bx{0.2}{0.175}{0.29}{0.345}{0.39}{0.46}
\bx{0.3}{0.15}{0.27}{0.32}{0.36}{0.44}
\bx{0.4}{0.24}{0.32}{0.35}{0.38}{0.45}
\bx{0.5}{0.31}{0.335}{0.36}{0.39}{0.42}
\bx{0.6}{0.33}{0.36}{0.38}{0.40}{0.42}
\bx{0.7}{0.36}{0.36}{0.38}{0.405}{0.43}
\bx{0.8}{0.40}{0.405}{0.415}{0.42}{0.43}
\bx{0.9}{0.44}{0.44}{0.45}{0.46}{0.465}
\addplot[outl] coordinates {(0.1,0.065)};
\hl{0.5}
\nextgroupplot[bot]
\bx{0.1}{0.326}{0.355}{0.38}{0.399}{0.435}
\bx{0.2}{0.246}{0.319}{0.355}{0.391}{0.453}
\bx{0.3}{0.217}{0.308}{0.337}{0.37}{0.435}
\bx{0.4}{0.246}{0.326}{0.355}{0.38}{0.442}
\bx{0.5}{0.308}{0.344}{0.37}{0.399}{0.428}
\bx{0.6}{0.344}{0.362}{0.38}{0.399}{0.435}
\bx{0.7}{0.344}{0.362}{0.388}{0.406}{0.435}
\bx{0.8}{0.40}{0.406}{0.413}{0.428}{0.435}
\bx{0.9}{0.435}{0.442}{0.45}{0.464}{0.47}
\addplot[outl] coordinates {(0.1,0.308)(0.5,0.50)(0.6,0.326)};
\hl{0.5}
\nextgroupplot[bot]
\bx{0.1}{0.054}{0.21}{0.319}{0.391}{0.543}
\bx{0.2}{0.163}{0.283}{0.344}{0.391}{0.514}
\bx{0.3}{0.246}{0.297}{0.344}{0.37}{0.435}
\bx{0.4}{0.236}{0.319}{0.362}{0.391}{0.435}
\bx{0.5}{0.29}{0.326}{0.355}{0.38}{0.42}
\bx{0.6}{0.326}{0.344}{0.373}{0.391}{0.417}
\bx{0.7}{0.344}{0.362}{0.388}{0.406}{0.435}
\bx{0.8}{0.40}{0.413}{0.42}{0.435}{0.442}
\bx{0.9}{0.44}{0.442}{0.45}{0.46}{0.465}
\addplot[outl] coordinates {(0.2,0.109)(0.5,0.45)(0.5,0.27)(0.5,0.25)(0.6,0.442)(0.6,0.30)(0.6,0.29)(0.8,0.45)};
\hl{0.5}
\nextgroupplot[bot]
\bx{0.1}{0.681}{0.696}{0.725}{0.761}{0.79}
\bx{0.2}{0.696}{0.707}{0.743}{0.768}{0.79}
\bx{0.3}{0.609}{0.634}{0.652}{0.663}{0.67}
\bx{0.4}{0.609}{0.616}{0.645}{0.659}{0.67}
\bx{0.5}{0.59}{0.598}{0.605}{0.616}{0.62}
\bx{0.6}{0.60}{0.605}{0.612}{0.623}{0.63}
\bx{0.7}{0.58}{0.587}{0.598}{0.609}{0.615}
\bx{0.8}{0.565}{0.572}{0.587}{0.605}{0.615}
\bx{0.9}{0.565}{0.572}{0.578}{0.587}{0.59}
\addplot[outl] coordinates {(0.3,0.725)(0.7,0.645)(0.8,0.623)(0.9,0.641)};
\hl{0.5}
\nextgroupplot[bot]
\bx{0.1}{0.47}{0.478}{0.49}{0.507}{0.51}
\bx{0.2}{0.565}{0.572}{0.591}{0.609}{0.615}
\bx{0.3}{0.545}{0.551}{0.572}{0.591}{0.60}
\bx{0.4}{0.575}{0.58}{0.598}{0.609}{0.615}
\bx{0.5}{0.565}{0.569}{0.58}{0.591}{0.595}
\bx{0.6}{0.575}{0.58}{0.59}{0.605}{0.61}
\bx{0.7}{0.585}{0.591}{0.598}{0.605}{0.61}
\bx{0.8}{0.59}{0.591}{0.598}{0.605}{0.608}
\bx{0.9}{0.585}{0.591}{0.598}{0.609}{0.615}
\addplot[outl] coordinates {(0.1,0.551)(0.3,0.623)(0.3,0.525)(0.7,0.634)(0.9,0.652)};
\hl{0.5}
\end{groupplot}
% strips on top
\foreach \c/\t in {1/EN,2/TIcE,3/JOINT METHOD,4/CD+MM,5/MLR,6/KM1,7/KM2}{
  \draw[grey20, fill=grey85, line width=0.55pt] (group c\c r1.north west) rectangle ($(group c\c r1.north east)+(0,16pt)$);
  \node[font=\fontsize{8.8}{9}\selectfont, text=grey10] at ($(group c\c r1.north)+(0,8pt)$) {\t};
}
% strips on the right
\foreach \r/\t in {1/{b=1, α=0.1},2/{b=1, α=0.25},3/{b=1, α=0.5},4/{b=2, α=0.1},5/{b=2, α=0.25},6/{b=2, α=0.5}}{
  \draw[grey20, fill=grey85, line width=0.55pt] ($(group c7r\r.north east)+(1pt,0)$) rectangle ($(group c7r\r.south east)+(58.7pt,0)$);
  \node[font=\fontsize{8.8}{9}\selectfont, text=grey10] at ($(group c7r\r.east)+(30pt,0)$) {\t};
}
\node[font=\fontsize{11}{12}\selectfont] at ($(group c1r6.south west)!0.5!(group c7r6.south east)+(0,-20pt)$) {c};
\node[rotate=90, font=\fontsize{11}{12}\selectfont] at ($(group c1r1.north west)!0.5!(group c1r6.south west)+(-31pt,0)$) {\ooalign{α\cr\hidewidth ˆ\hidewidth\cr} and α};
\pgfresetboundingbox
\path[use as bounding box] ($(group c1r1.north west)+(-40pt,18pt)$) rectangle ($(group c7r6.south east)+(59pt,-24pt)$);
\end{tikzpicture}
\end{document}
